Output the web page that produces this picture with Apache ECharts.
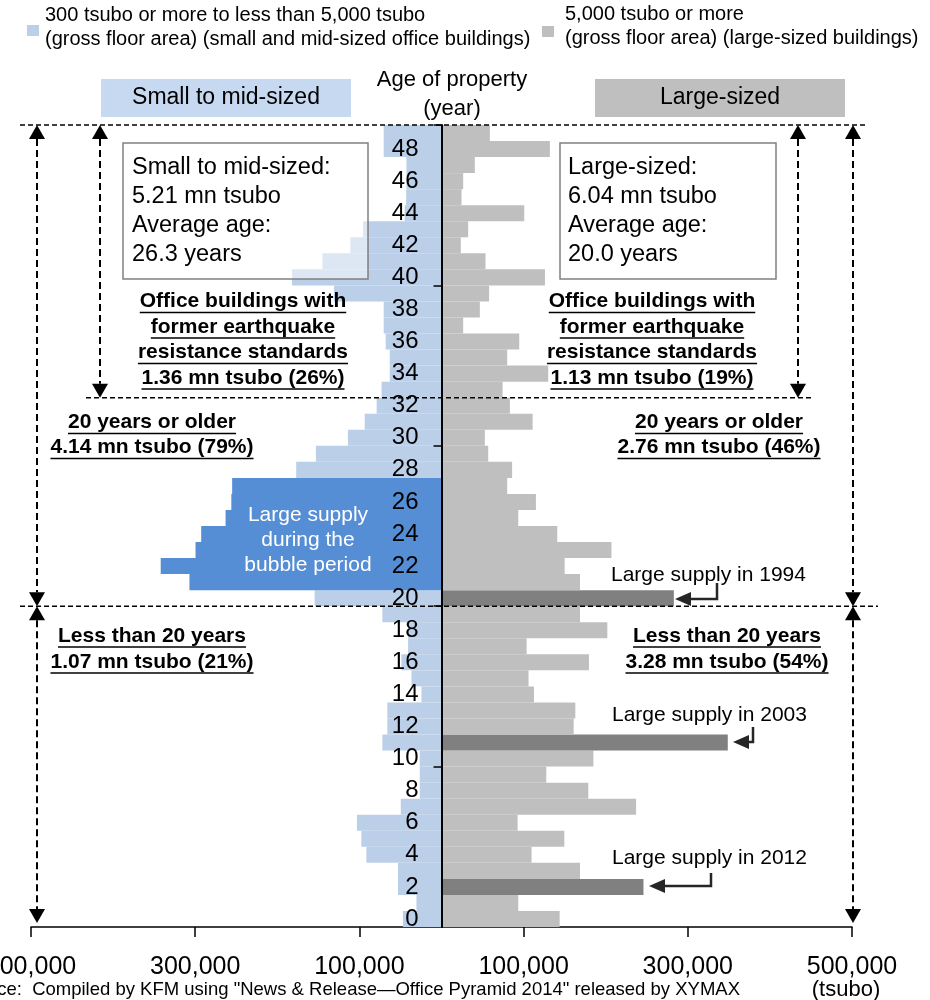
<!DOCTYPE html>
<html><head><meta charset="utf-8">
<script src="https://cdn.jsdelivr.net/npm/echarts@6/dist/echarts.min.js"></script>
<style>html,body{margin:0;padding:0;background:#fff}#c{width:930px;height:1000px}</style>
</head><body><div id="c"></div>
<script>
// ---------- DATA ----------
const ages = ['0','1','2','3','4','5','6','7','8','9','10','11','12','13','14','15','16','17','18','19',
  '20','21','22','23','24','25','26','27','28','29','30','31','32','33','34','35','36','37','38','39',
  '40','41','42','43','44','45','46','47','48','49'];
// gross floor area (tsubo) by age of property
const smallMid = [47000,30500,53000,53000,91500,97600,103000,49600,26500,26500,
  26500,72000,66000,66000,24400,36600,48800,40700,40700,72000,
  154500,307000,342000,299600,292700,263000,256000,255000,177000,153000,
  114000,93500,79000,73000,63000,63000,68000,70400,70400,131000,
  182000,145000,111000,95600,44800,43000,42700,42700,70400,70400];
const largeSized = [143900,93500,246000,168700,109700,149600,92700,237000,178800,127600,
  185000,348700,161000,163000,112600,106000,179600,103700,202000,168700,
  283000,168700,150000,207000,141000,93500,115000,80000,86000,56900,
  52800,111000,83300,74400,130000,80000,94700,26400,46700,58000,
  126000,53600,23500,32500,100800,24400,26400,40600,132000,58900];
const smallHighlight = ['21','22','23','24','25','26','27'];   // bubble period
const largeHighlight = ['2','11','20'];                          // 2012, 2003, 1994
const xTickValues = [-500000,-300000,-100000,100000,300000,500000];
const ageTickEvery = 10;
const ageLabelEvery = 2;

// ---------- STYLE ----------
const FONT = '"Liberation Sans", Arial, sans-serif';
const C_SMALL = '#BBCFE8', C_SMALL_HI = '#558ED5', C_LARGE = '#BFBFBF', C_LARGE_HI = '#808080';
const G = {left: 31, top: 125, width: 821, height: 802};

const chart = echarts.init(document.getElementById('c'), null, {renderer: 'canvas'});

const smallData = smallMid.map((v, i) => ({
  value: -v,
  itemStyle: {color: smallHighlight.includes(ages[i]) ? C_SMALL_HI : C_SMALL}
}));
const largeData = largeSized.map((v, i) => ({
  value: v,
  itemStyle: {color: largeHighlight.includes(ages[i]) ? C_LARGE_HI : C_LARGE}
}));

// ---------- ANNOTATION HELPERS ----------
const mctx = document.createElement('canvas').getContext('2d');
function measure(s, font) { mctx.font = font; return mctx.measureText(s).width; }
function txt(x, y, s, size, o) {
  o = o || {};
  const font = (o.bold ? 'bold ' : '') + size + 'px ' + FONT;
  return {type: 'text', x: x, y: y, z: o.z || 100,
    style: {text: s, font: font, fill: o.fill || '#000',
      align: o.align || 'left', verticalAlign: 'middle',
      textAlign: o.align || 'left', textVerticalAlign: 'middle'}};
}
function utxt(cx, y, s, size) {   // bold centred + underline
  const font = 'bold ' + size + 'px ' + FONT;
  const w = measure(s, font);
  return [txt(cx, y, s, size, {bold: true, align: 'center'}),
    {type: 'line', z: 100, shape: {x1: cx - w / 2, y1: y + 11, x2: cx + w / 2, y2: y + 11},
      style: {stroke: '#000', lineWidth: 1.5}}];
}
function hdash(x1, x2, y) {
  return {type: 'line', z: 90, shape: {x1: x1, y1: y, x2: x2, y2: y},
    style: {stroke: '#000', lineWidth: 1.5, lineDash: [5, 3]}};
}
function vArrow(x, y1, y2) {
  const h = 14, w = 8;
  return [
    {type: 'line', z: 90, shape: {x1: x, y1: y1 + h, x2: x, y2: y2 - h},
      style: {stroke: '#000', lineWidth: 2, lineDash: [7, 4]}},
    {type: 'polygon', z: 91, shape: {points: [[x - w, y1 + h], [x + w, y1 + h], [x, y1]]}, style: {fill: '#000'}},
    {type: 'polygon', z: 91, shape: {points: [[x - w, y2 - h], [x + w, y2 - h], [x, y2]]}, style: {fill: '#000'}}
  ];
}
function bentArrow(xv, yTop, yH, xBase, xTip) {
  return [
    {type: 'polyline', z: 100, shape: {points: [[xv, yTop], [xv, yH], [xBase, yH]]},
      style: {stroke: '#262626', lineWidth: 2.5, fill: null}},
    {type: 'polygon', z: 100, shape: {points: [[xTip, yH], [xBase + 2, yH - 7], [xBase + 2, yH + 7]]},
      style: {fill: '#262626'}}
  ];
}
function box(x, y, w, h) {
  return {type: 'rect', z: 95, shape: {x: x, y: y, width: w, height: h},
    style: {fill: 'rgba(255,255,255,0.5)', stroke: '#808080', lineWidth: 1.5}};
}
const ageY = a => G.top + (50 - a) / 50 * G.height;   // boundary position of an age band

let graphics = [];
// legend
graphics.push({type: 'rect', shape: {x: 27, y: 25, width: 12, height: 11}, style: {fill: C_SMALL}});
graphics.push(txt(45, 15, '300 tsubo or more to less than 5,000 tsubo', 20));
graphics.push(txt(45, 39, '(gross floor area) (small and mid-sized office buildings)', 20));
graphics.push({type: 'rect', shape: {x: 542, y: 26, width: 12, height: 11}, style: {fill: C_LARGE}});
graphics.push(txt(565, 14, '5,000 tsubo or more', 20));
graphics.push(txt(565, 38, '(gross floor area) (large-sized buildings)', 20));
// header labels
graphics.push({type: 'rect', shape: {x: 101, y: 79, width: 250, height: 38}, style: {fill: '#C6D9F1'}});
graphics.push(txt(226, 98, 'Small to mid-sized', 23, {align: 'center'}));
graphics.push({type: 'rect', shape: {x: 595, y: 79, width: 250, height: 38}, style: {fill: '#BFBFBF'}});
graphics.push(txt(720, 98, 'Large-sized', 23, {align: 'center'}));
graphics.push(txt(452, 80, 'Age of property', 22, {align: 'center'}));
graphics.push(txt(452, 109, '(year)', 22, {align: 'center'}));
// summary boxes
graphics.push(box(123, 143, 245, 136));
['Small to mid-sized:', '5.21 mn tsubo', 'Average age:', '26.3 years'].forEach((s, i) =>
  graphics.push(txt(132, 168 + i * 29, s, 23.5)));
graphics.push(box(560, 143, 216, 136));
['Large-sized:', '6.04 mn tsubo', 'Average age:', '20.0 years'].forEach((s, i) =>
  graphics.push(txt(568, 168 + i * 29, s, 23.5)));
// bold underlined notes
['Office buildings with', 'former earthquake', 'resistance standards', '1.36 mn tsubo (26%)'].forEach((s, i) =>
  graphics = graphics.concat(utxt(243, 301.5 + i * 25.5, s, 21)));
['Office buildings with', 'former earthquake', 'resistance standards', '1.13 mn tsubo (19%)'].forEach((s, i) =>
  graphics = graphics.concat(utxt(652, 301.5 + i * 25.5, s, 21)));
graphics = graphics.concat(utxt(152, 422.5, '20 years or older', 21), utxt(152, 447.5, '4.14 mn tsubo (79%)', 21));
graphics = graphics.concat(utxt(719, 422.5, '20 years or older', 21), utxt(719, 447.5, '2.76 mn tsubo (46%)', 21));
graphics = graphics.concat(utxt(152, 636, 'Less than 20 years', 21), utxt(152, 662, '1.07 mn tsubo (21%)', 21));
graphics = graphics.concat(utxt(727, 636, 'Less than 20 years', 21), utxt(727, 662, '3.28 mn tsubo (54%)', 21));
// dashed guides
graphics.push(hdash(20, 868, ageY(50)));
graphics.push(hdash(86, 812, ageY(33)));
graphics.push(hdash(20, 878, ageY(20)));
graphics = graphics.concat(vArrow(37, ageY(50), ageY(20)), vArrow(37, ageY(20), ageY(0) - 4));
graphics = graphics.concat(vArrow(100, ageY(50), ageY(33)));
graphics = graphics.concat(vArrow(798, ageY(50), ageY(33)));
graphics = graphics.concat(vArrow(853, ageY(50), ageY(20)), vArrow(853, ageY(20), ageY(0) - 4));
// bubble period text
['Large supply', 'during the', 'bubble period'].forEach((s, i) =>
  graphics.push(txt(308, 515 + i * 25, s, 21, {align: 'center', fill: '#fff'})));
// large supply call-outs
graphics.push(txt(611, 575, 'Large supply in 1994', 21));
graphics = graphics.concat(bentArrow(717, 583, 599, 689, 675));
graphics.push(txt(612, 715, 'Large supply in 2003', 21));
graphics = graphics.concat(bentArrow(753, 727, 742, 747, 733));
graphics.push(txt(612, 858, 'Large supply in 2012', 21));
graphics = graphics.concat(bentArrow(711, 873, 886, 663, 649));
// footer
graphics.push(txt(740, 990, 'Source:  Compiled by KFM using "News & Release\u2014Office Pyramid 2014" released by XYMAX', 18.5, {align: 'right'}));
graphics.push(txt(846, 990, '(tsubo)', 22, {align: 'center'}));

const option = {
  animation: false,
  backgroundColor: '#fff',
  grid: {left: G.left, top: G.top, width: G.width, height: G.height,
    containLabel: false, outerBoundsMode: 'none'},
  xAxis: {
    type: 'value', min: -500000, max: 500000, interval: 100000,
    splitLine: {show: false},
    axisLine: {show: true, lineStyle: {color: '#000', width: 1.5}},
    axisTick: {show: true, length: 10, lineStyle: {color: '#000', width: 1.5}, customValues: xTickValues},
    axisLabel: {show: true, margin: 28, fontSize: 25, color: '#000', fontFamily: FONT,
      customValues: xTickValues,
      formatter: v => Math.abs(v).toLocaleString('en-US')}
  },
  yAxis: {
    type: 'category', data: ages, z: 10, position: 'left',
    offset: -G.width / 2,          // centre axis between the two halves
    axisLine: {show: true, onZero: false, lineStyle: {color: '#000', width: 2}},
    axisTick: {show: true, length: 8, alignWithLabel: false,
      interval: i => i > 0 && i % ageTickEvery === 0, lineStyle: {color: '#000', width: 1.5}},
    axisLabel: {interval: ageLabelEvery - 1, margin: 23, fontSize: 24, color: '#000', fontFamily: FONT},
    splitLine: {show: false}
  },
  series: [
    {type: 'bar', name: 'small', stack: 'age', data: smallData, barCategoryGap: '0%', barWidth: '100%'},
    {type: 'bar', name: 'large', stack: 'age', data: largeData, barCategoryGap: '0%', barWidth: '100%'}
  ],
  graphic: {elements: graphics}
};
chart.setOption(option);
</script>
</body></html>
